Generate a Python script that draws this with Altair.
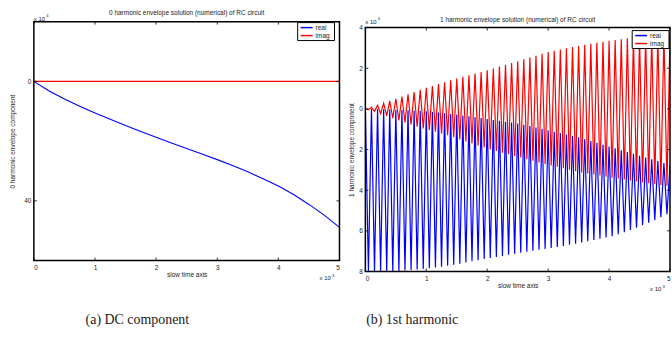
import altair as alt
import pandas as pd

# ---------------- data (x in units of 10^3, y in units of 10^4 as labelled) ----------------
DC_T = [0.0, 0.25, 0.5, 0.75, 1.0, 1.25, 1.5, 1.75, 2.0, 2.25, 2.5, 2.75, 3.0, 3.25, 3.5,
        3.75, 4.0, 4.25, 4.5, 4.75, 5.0]
DC_REAL = [0.0, -3.25, -5.9, -8.3, -10.55, -12.7, -14.8, -16.8, -18.7, -20.6, -22.45, -24.3,
           -26.2, -28.2, -30.3, -32.6, -35.0, -37.9, -41.2, -44.8, -48.9]
DC_IMAG = [0.0, 0.0, 0.0, 0.0, 0.0, 0.0, 0.0, 0.0, 0.0, 0.0, 0.0, 0.0, 0.0, 0.0, 0.0,
           0.0, 0.0, 0.0, 0.0, 0.0, 0.0]

H1_T_EVEN = [0.0, 0.1, 0.2, 0.3, 0.4, 0.5, 0.6, 0.7, 0.8, 0.9, 1.0, 1.1, 1.2, 1.3, 1.4, 1.5,
             1.6, 1.7, 1.8, 1.9, 2.0, 2.1, 2.2, 2.3, 2.4, 2.5, 2.6, 2.7, 2.8, 2.9, 3.0, 3.1,
             3.2, 3.3, 3.4, 3.5, 3.6, 3.7, 3.8, 3.9, 4.0, 4.1, 4.2, 4.3, 4.4, 4.5, 4.6, 4.7,
             4.8, 4.9, 5.0]
H1_T_ODD = [0.05, 0.15, 0.25, 0.35, 0.45, 0.55, 0.65, 0.75, 0.85, 0.95, 1.05, 1.15, 1.25,
            1.35, 1.45, 1.55, 1.65, 1.75, 1.85, 1.95, 2.05, 2.15, 2.25, 2.35, 2.45, 2.55,
            2.65, 2.75, 2.85, 2.95, 3.05, 3.15, 3.25, 3.35, 3.45, 3.55, 3.65, 3.75, 3.85,
            3.95, 4.05, 4.15, 4.25, 4.35, 4.45, 4.55, 4.65, 4.75, 4.85, 4.95]
H1_REAL_EVEN = [0.0, -0.01, -0.01, -0.02, -0.03, -0.05, -0.06, -0.07, -0.09, -0.1, -0.12,
                -0.15, -0.18, -0.21, -0.25, -0.28, -0.32, -0.36, -0.41, -0.45, -0.5, -0.54,
                -0.58, -0.63, -0.67, -0.72, -0.78, -0.84, -0.91, -0.98, -1.05, -1.12, -1.19,
                -1.26, -1.33, -1.4, -1.49, -1.58, -1.67, -1.76, -1.85, -1.94, -2.03, -2.12,
                -2.21, -2.3, -2.39, -2.48, -2.57, -2.66, -2.75]
H1_REAL_ODD = [-8.0, -8.0, -8.0, -7.99, -7.98, -7.97, -7.95, -7.93, -7.9, -7.87, -7.84, -7.8,
               -7.76, -7.72, -7.67, -7.62, -7.56, -7.5, -7.44, -7.38, -7.33, -7.28, -7.23,
               -7.18, -7.13, -7.08, -7.03, -6.98, -6.93, -6.89, -6.84, -6.79, -6.74, -6.68,
               -6.63, -6.57, -6.51, -6.45, -6.39, -6.33, -6.26, -6.17, -6.07, -5.96, -5.84,
               -5.72, -5.6, -5.47, -5.33, -5.18]
H1_IMAG_EVEN = [0.0, 0.08, 0.18, 0.28, 0.39, 0.5, 0.61, 0.72, 0.83, 0.94, 1.04, 1.13, 1.22,
                1.31, 1.41, 1.5, 1.58, 1.66, 1.74, 1.82, 1.9, 1.99, 2.08, 2.17, 2.26, 2.35,
                2.44, 2.53, 2.62, 2.71, 2.8, 2.86, 2.92, 2.98, 3.04, 3.1, 3.15, 3.2, 3.25,
                3.3, 3.35, 3.39, 3.43, 3.47, 3.51, 3.55, 3.57, 3.59, 3.61, 3.63, 3.65]
H1_IMAG_ODD = [-0.03, -0.12, -0.23, -0.34, -0.45, -0.56, -0.66, -0.77, -0.87, -0.96, -1.03,
               -1.12, -1.21, -1.3, -1.39, -1.5, -1.6, -1.7, -1.8, -1.9, -1.99, -2.07, -2.15,
               -2.23, -2.31, -2.39, -2.47, -2.55, -2.63, -2.71, -2.78, -2.85, -2.92, -2.99,
               -3.06, -3.13, -3.18, -3.23, -3.28, -3.33, -3.38, -3.42, -3.47, -3.52, -3.57,
               -3.62, -3.66, -3.7, -3.74, -3.78]

SERIES = ["real", "imag"]
COLORS = ["#0000ff", "#ff0000"]
X_TICKS = [0, 1, 2, 3, 4, 5]
DC_Y_TICKS = [0, -40]
H1_Y_TICKS = [4, 2, 0, -2, -4, -6, -8]

FONT = "Liberation Sans"
SERIF = "Liberation Serif"
TXT = "#222222"

# ---------------- tables ----------------
dc_rows = []
for i, t in enumerate(DC_T):
    dc_rows.append({"t": t, "v": DC_REAL[i], "series": "real", "i": i})
for i, t in enumerate(DC_T):
    dc_rows.append({"t": t, "v": DC_IMAG[i], "series": "imag", "i": i})
dc_df = pd.DataFrame(dc_rows)

h1_t, h1_re, h1_im = [], [], []
for k in range(len(H1_T_EVEN)):
    h1_t.append(H1_T_EVEN[k]); h1_re.append(H1_REAL_EVEN[k]); h1_im.append(H1_IMAG_EVEN[k])
    if k < len(H1_T_ODD):
        h1_t.append(H1_T_ODD[k]); h1_re.append(H1_REAL_ODD[k]); h1_im.append(H1_IMAG_ODD[k])
h1_rows = []
for i, t in enumerate(h1_t):
    h1_rows.append({"t": t, "v": h1_re[i], "series": "real", "i": i})
for i, t in enumerate(h1_t):
    h1_rows.append({"t": t, "v": h1_im[i], "series": "imag", "i": i})
h1_df = pd.DataFrame(h1_rows)


def panel(df, W, H, top, y_domain, y_ticks, title, title_y, ytitle, ytitle_pad,
          left_anchor, top_anchor, legend_box, caption, cap_x, cap_y, exp_y, lw_line):
    VH = H + top  # view height; plot frame spans [top, top+H]
    x_enc = alt.X("t:Q", scale=alt.Scale(domain=[0, 5], nice=False, zero=False),
                  axis=alt.Axis(values=X_TICKS, ticks=False, tickSize=0, domain=False, grid=False,
                                labelFontSize=6.5, labelPadding=4, labelFont=FONT, labelColor=TXT,
                                title="slow time axis", titleFontSize=6.5, titleFont=FONT,
                                titleFontWeight="normal", titleColor=TXT, titlePadding=1))
    y_enc = alt.Y("v:Q", scale=alt.Scale(domain=y_domain, range=[VH, top], nice=False, zero=False),
                  axis=alt.Axis(values=y_ticks, ticks=False, tickSize=0, domain=False, grid=False,
                                labelExpr="format(abs(datum.value), 'd')",
                                labelFontSize=6.5, labelPadding=3, labelFont=FONT, labelColor=TXT,
                                title=ytitle, titleFontSize=6.5, titleFont=FONT,
                                titleFontWeight="normal", titleColor=TXT,
                                titlePadding=ytitle_pad))
    color = alt.Color("series:N", scale=alt.Scale(domain=SERIES, range=COLORS), legend=None)

    lines = alt.Chart(df).mark_line(strokeWidth=lw_line, clip=True).encode(
        x=x_enc, y=y_enc, color=color, order=alt.Order("i:Q"))

    xt = pd.DataFrame({"t": X_TICKS})
    yt = pd.DataFrame({"v": y_ticks})
    tk = dict(color="black", strokeWidth=0.8)
    ticks = [
        alt.Chart(xt).mark_rule(**tk).encode(x=x_enc, y=alt.value(VH), y2=alt.value(VH - 3)),
        alt.Chart(xt).mark_rule(**tk).encode(x=x_enc, y=alt.value(top), y2=alt.value(top + 3)),
        alt.Chart(yt).mark_rule(**tk).encode(y=y_enc, x=alt.value(0), x2=alt.value(3)),
        alt.Chart(yt).mark_rule(**tk).encode(y=y_enc, x=alt.value(W), x2=alt.value(W - 3)),
    ]

    one = pd.DataFrame({"a": [0]})
    base = alt.Chart(one)

    def txt(s, x, y, size=6.5, align="left", baseline="alphabetic", font=FONT, opacity=1.0):
        return base.mark_text(text=s, fontSize=size, align=align, baseline=baseline,
                              font=font, color=TXT, opacity=opacity).encode(
            x=alt.value(x), y=alt.value(y))

    border = base.mark_rect(filled=False, stroke="black", strokeWidth=1.5).encode(
        x=alt.value(0), x2=alt.value(W), y=alt.value(top), y2=alt.value(VH))

    # legend box (inside plot, top-right)
    lx0, ly0, lw, lh = legend_box
    ly0 = ly0 + top
    legend = [
        base.mark_rect(fill="white", stroke="black", strokeWidth=1).encode(
            x=alt.value(lx0), x2=alt.value(lx0 + lw), y=alt.value(ly0), y2=alt.value(ly0 + lh)),
        base.mark_rule(color=COLORS[0], strokeWidth=1.5).encode(
            x=alt.value(lx0 + 3), x2=alt.value(lx0 + 15), y=alt.value(ly0 + 5)),
        base.mark_rule(color=COLORS[1], strokeWidth=1.5).encode(
            x=alt.value(lx0 + 3), x2=alt.value(lx0 + 15), y=alt.value(ly0 + 13)),
        txt(SERIES[0], lx0 + 18, ly0 + 5, size=6.5, baseline="middle"),
        txt(SERIES[1], lx0 + 18, ly0 + 13, size=6.5, baseline="middle"),
    ]

    annots = [
        txt(title, W / 2, title_y, size=6.5, align="center", baseline="middle"),
        txt("x 10", 0, exp_y, size=6),
        txt("4", 12.5, exp_y - 3.5, size=4.2),
        txt("x 10", W - 20, VH + 20, size=6),
        txt("3", W - 7.5, VH + 16.5, size=4.2),
        txt(caption, cap_x, cap_y, size=14, align="center", baseline="middle", font=SERIF),
        # invisible layout anchors (fix the cell's outer bounds)
        txt(".", left_anchor, top_anchor, size=1, baseline="top", opacity=0),
    ]

    return alt.layer(lines, *ticks, border, *legend, *annots).properties(width=W, height=VH)


# left plot frame: x 33..340, y 20..260 ; right plot frame: x 364..670, y 26..271
left = panel(dc_df, 307, 240, 0, [-60, 20], DC_Y_TICKS,
             "0 harmonic envelope solution (numerical) of RC circuit", -9,
             "0 harmonic envelope component", 8, -33, -20,
             (265, 1, 37, 18), "(a) DC component", 104, 300, -1, 1.1)
right = panel(h1_df, 306, 245, 6, [-8, 4], H1_Y_TICKS,
              "1 harmonic envelope solution (numerical) of RC circuit", -2,
              "1 harmonic envelope component", 4.5, -23, -20,
              (268, 3, 37, 18), "(b) 1st harmonic", 47, 300, 2, 1.2)

chart = alt.hconcat(left, right, spacing=0).properties(padding=0).configure_view(
    stroke="transparent").configure_concat(spacing=0)

chart.save("out.html", embed_options={"renderer": "svg", "actions": False})
